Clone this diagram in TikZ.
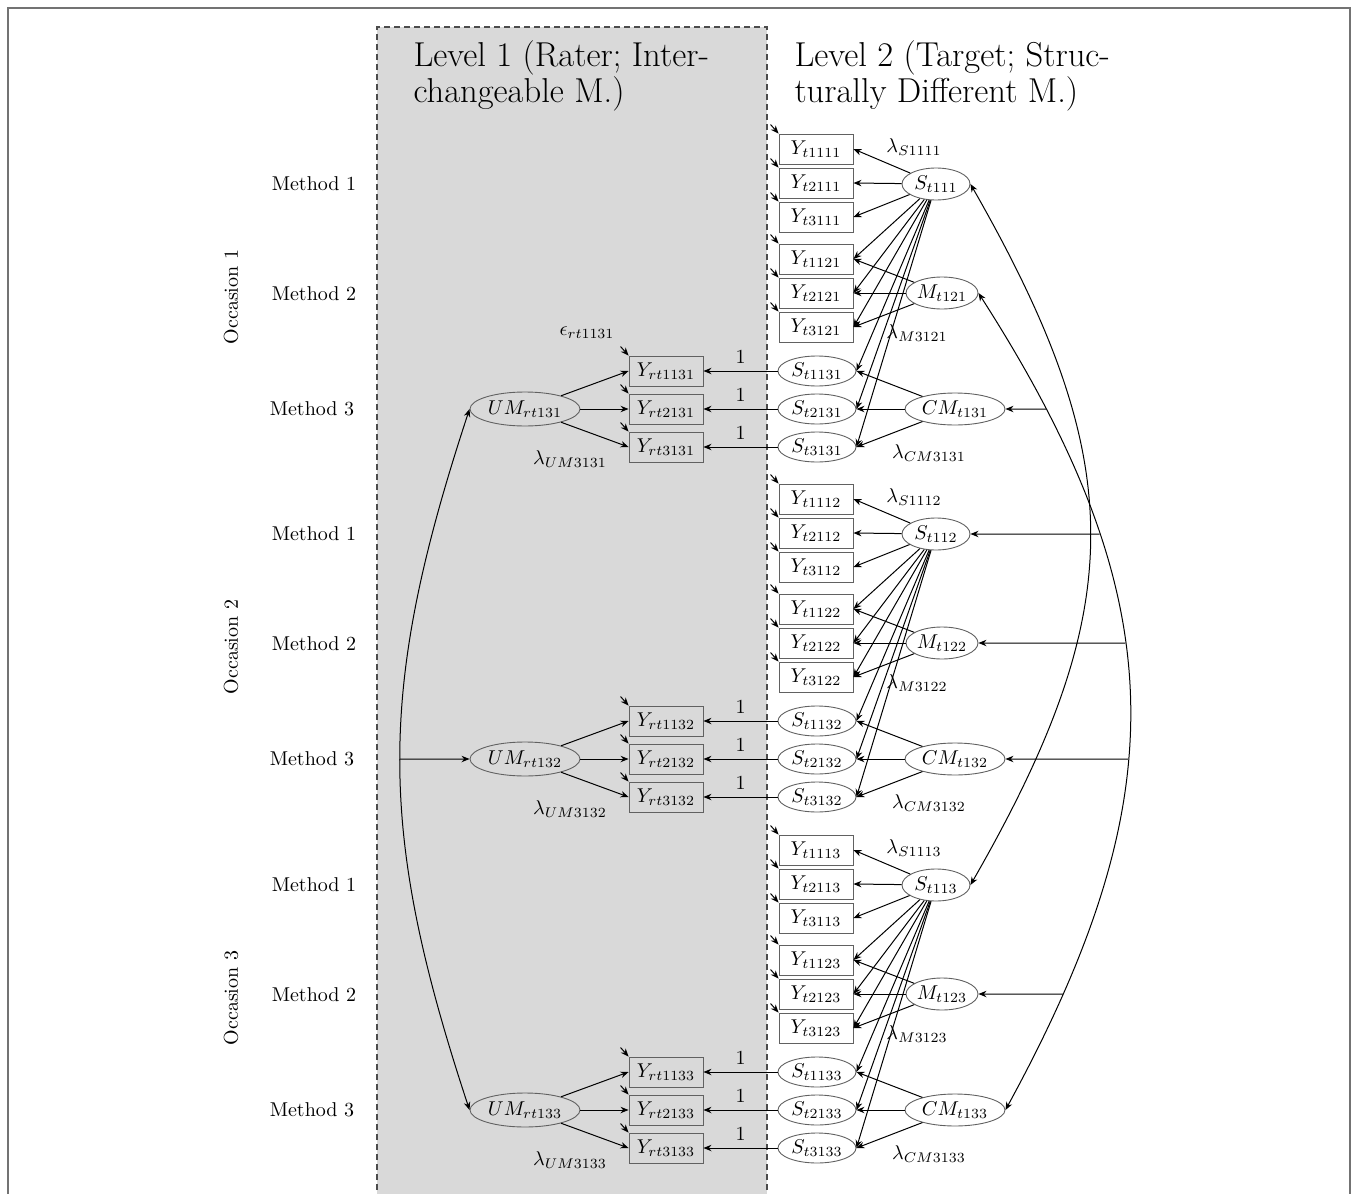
\documentclass[tikz,border=0pt]{standalone}
\usetikzlibrary{shapes.geometric,arrows.meta,calc,intersections}
\begin{document}
\begin{tikzpicture}[x=0.5pt,y=-0.5pt,line width=0.5pt,
  >={Stealth[length=4pt,width=3.2pt]},
  ybox/.style={rectangle,draw=black!62,line width=0.45pt,minimum width=37pt,minimum height=15pt,inner sep=0pt},
  lat/.style={ellipse,draw=black!62,line width=0.45pt,inner sep=0pt},
  errarr/.style={<-},
  conn/.style={->},
  title/.style={font=\fontsize{17.28}{18}\selectfont,anchor=base west,align=left,inner sep=0pt}]
\useasboundingbox (0,0) rectangle (1356,1194);
\clip (0,0) rectangle (1356,1194);
% frame and level-1 panel
\draw[black!55,line width=0.9pt] (8,8) rectangle (1350,1300);
\fill[black!15] (377,27) rectangle (767,1300);
\draw[black!70,dash pattern=on 3pt off 2pt,line width=0.6pt] (377,1300) -- (377,27) -- (767,27) -- (767,1300);
\node[title] (lev1) at (413,102) {Level 1 (Rater; Inter-\\changeable M.)};
\node[title] (lev2) at (794,102) {Level 2 (Target; Struc-\\turally Different M.)};
\node (eps) at (587,333) {$\epsilon_{rt1131}$};
\foreach \o/\d in {1/0,2/350,3/701}{
  \node[rotate=90] (occ\o) at (231,{297+\d}) {Occasion \o};
  \node (methA\o) at (314,{184+\d}) {Method 1};
  \node (methB\o) at (314,{294+\d}) {Method 2};
  \node (methC\o) at (312,{409+\d}) {Method 3};
  % indicators of methods 1 and 2
  \foreach \k/\b in {1/183,2/293}{
    \foreach \i in {1,2,3}{
      \node[ybox] (Yt\i1\k\o) at (816,{\b+(\i-2)*34+\d}) {$Y_{t\i1\k\o}$};
      \draw[errarr] (Yt\i1\k\o.north west) -- ++(-8,-9);
    }
  }
  % latent variables
  \node[lat,minimum width=34pt,minimum height=16pt] (St11\o) at (936,{184+\d}) {$S_{t11\o}$};
  \node[lat,minimum width=36pt,minimum height=16pt] (Mt12\o) at (942,{293+\d}) {$M_{t12\o}$};
  \node[lat,minimum width=50pt,minimum height=16pt] (CMt13\o) at (955,{409+\d}) {$CM_{t13\o}$};
  \node[lat,minimum width=55pt,minimum height=17pt] (UMrt13\o) at (525,{409+\d}) {$UM_{rt13\o}$};
  % method 3
  \foreach \i in {1,2,3}{
    \node[lat,minimum width=39pt,minimum height=15pt] (St\i13\o) at (817,{409+(\i-2)*38+\d}) {$S_{t\i13\o}$};
    \node[ybox] (Yrt\i13\o) at (666,{409+(\i-2)*38+\d}) {$Y_{rt\i13\o}$};
    \draw[errarr] (Yrt\i13\o.north west) -- ++(-8,-9);
    \draw[conn] (St\i13\o) -- node[above] {1} (Yrt\i13\o);
  }
  \foreach \i in {1,2,3}{
    \draw[conn] (St11\o) -- (Yt\i11\o.east);
    \draw[conn] (St11\o) -- (Yt\i12\o.east);
    \draw[conn] (St11\o) -- (St\i13\o.east);
    \draw[conn] (Mt12\o) -- (Yt\i12\o.east);
    \draw[conn] (CMt13\o) -- (St\i13\o.east);
    \draw[conn] (UMrt13\o) -- (Yrt\i13\o.west);
  }
  \node (lS\o) at (914,{147+\d}) {$\lambda_{S111\o}$};
  \node (lM\o) at (917,{333+\d}) {$\lambda_{M312\o}$};
  \node (lCM\o) at (929,{453+\d}) {$\lambda_{CM313\o}$};
  \node (lUM\o) at (570,{459+\d}) {$\lambda_{UM313\o}$};
}
% correlations on the right
\draw[<->] (St111.east) .. controls (1130,463) and (1130,607) .. (St113.east);
\draw[<->,name path=mcurve] (Mt121.east) .. controls (1176,601) and (1176,797) .. (CMt133.east);
\foreach \t in {CMt131,St112,Mt122,CMt132,Mt123}{
  \path[name path=h\t] (\t.east) -- ++(300,0);
  \path[name intersections={of=mcurve and h\t,by={x\t}}];
  \draw[conn] (x\t) -- (\t.east);
}
% correlations on the left
\draw[<->,name path=umcurve] (UMrt131.west) .. controls (377,690) and (377,830) .. (UMrt133.west);
\path[name path=humc] (UMrt132.west) -- ++(-200,0);
\path[name intersections={of=umcurve and humc,by={xUM}}];
\draw[conn] (xUM) -- (UMrt132.west);
\end{tikzpicture}
\end{document}
